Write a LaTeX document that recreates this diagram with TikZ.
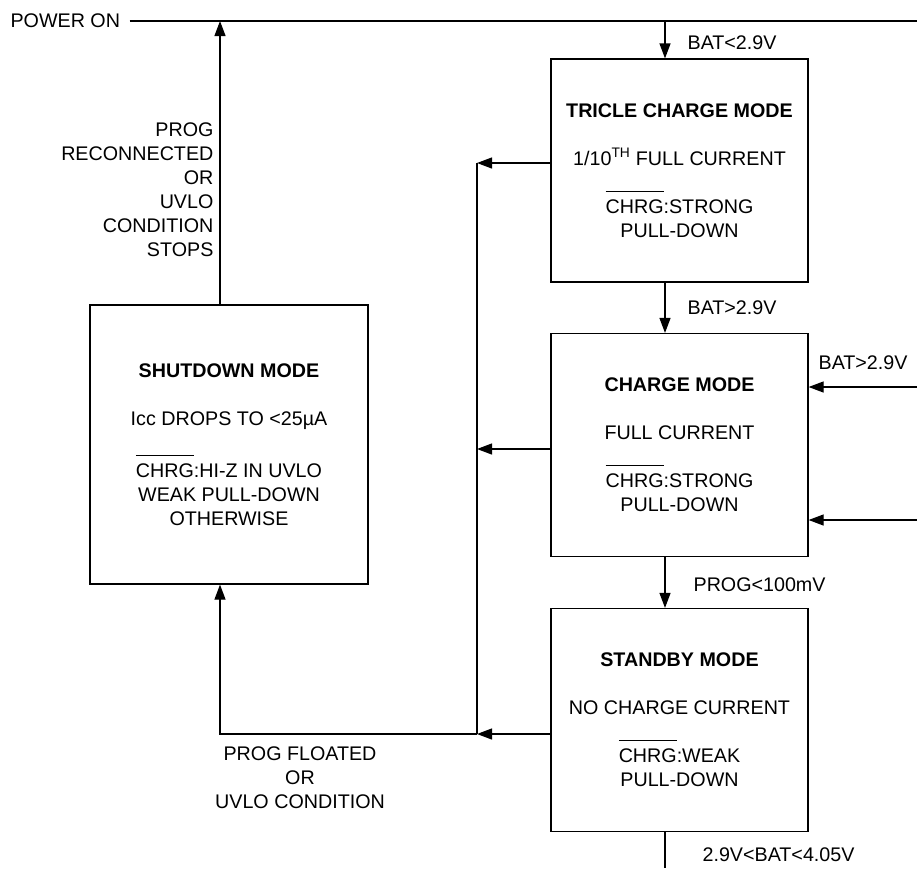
\documentclass[tikz,border=0pt]{standalone}
\usepackage{fontspec}
\setmainfont{Liberation Sans}
\usetikzlibrary{calc, arrows.meta}
\tikzset{>={Triangle[length=15pt,width=11pt]}}
\tikzset{mode/.style={draw, line width=1.2pt, align=center, inner sep=0pt,
    minimum width=257pt, minimum height=223pt},
  lbl/.style={inner sep=0pt, align=center}}
\newcommand{\chrg}{\setbox0\hbox{CHRG}\rlap{\rule[1.09em]{\wd0}{1.1pt}}\box0}

\begin{document}
\begin{tikzpicture}[x=1pt, y=-1pt, line width=1.2pt,
  every node/.style={font=\fontsize{19.7}{24}\selectfont}]
\useasboundingbox (0,0) rectangle (917,868);
% mode boxes
\node[mode] (tc) at (679.5,170.5) {\textbf{TRICLE CHARGE MODE}\\[24pt] 1/10\textsuperscript{TH} FULL CURRENT\\[24pt] \chrg:STRONG\\ PULL-DOWN};
\node[mode] (cm) at (679.5,445) {\textbf{CHARGE MODE}\\[24pt] FULL CURRENT\\[24pt] \chrg:STRONG\\ PULL-DOWN};
\node[mode] (sb) at (679.5,720) {\textbf{STANDBY MODE}\\[24pt] NO CHARGE CURRENT\\[24pt] \chrg:WEAK\\ PULL-DOWN};
\node[mode, minimum width=278pt, minimum height=279pt] (sd) at (229,444.5) {\textbf{SHUTDOWN MODE}\\[24pt] Icc DROPS TO <25µA\\[24pt] \chrg:HI-Z IN UVLO\\ WEAK PULL-DOWN\\ OTHERWISE};
\node[lbl, anchor=west] (pwr) at (10,21) {POWER ON};
% helper coordinates
\coordinate (cx) at (665,0);
\coordinate (sdx) at (220,0);
\coordinate (topR) at (917,21);
\coordinate (bus1) at (477,163);
\coordinate (bus2) at (477,449);
\coordinate (bus3) at (477,734);
\coordinate (in1) at (917,387);
\coordinate (in2) at (917,520);
\coordinate (bot) at (665,868);
% connectors
\draw ([xshift=9pt]pwr.east) -- (topR);
\draw[->] (cx |- topR) -- (cx |- tc.north);
\draw[->] (cx |- tc.south) -- (cx |- cm.north);
\draw[->] (cx |- cm.south) -- (cx |- sb.north);
\draw (cx |- sb.south) -- (bot);
\draw[->] (in1) -- (cm.east |- in1);
\draw[->] (in2) -- (cm.east |- in2);
\draw[->] (tc.west |- bus1) -- (bus1);
\draw[->] (cm.west |- bus2) -- (bus2);
\draw[->] (sb.west |- bus3) -- (bus3);
\draw (bus1) -- (bus3);
\draw[->] (bus3) -| (sdx |- sd.south);
\draw[->] (sdx |- sd.north) -- (sdx |- topR);
% labels
\node[lbl, anchor=west] (l1) at (687,43) {BAT<2.9V};
\node[lbl, anchor=west] (l2) at (687,308) {BAT>2.9V};
\node[lbl, anchor=west] (l3) at (818,363) {BAT>2.9V};
\node[lbl, anchor=west] (l4) at (693,585) {PROG<100mV};
\node[lbl, anchor=west] (l5) at (702,855) {2.9V<BAT<4.05V};
\node[lbl, anchor=east, align=right] (l6) at (214,190) {PROG\\ RECONNECTED\\ OR\\ UVLO\\ CONDITION\\ STOPS};
\node[lbl] (l7) at (300,778) {PROG FLOATED\\ OR\\ UVLO CONDITION};
\end{tikzpicture}
\end{document}
